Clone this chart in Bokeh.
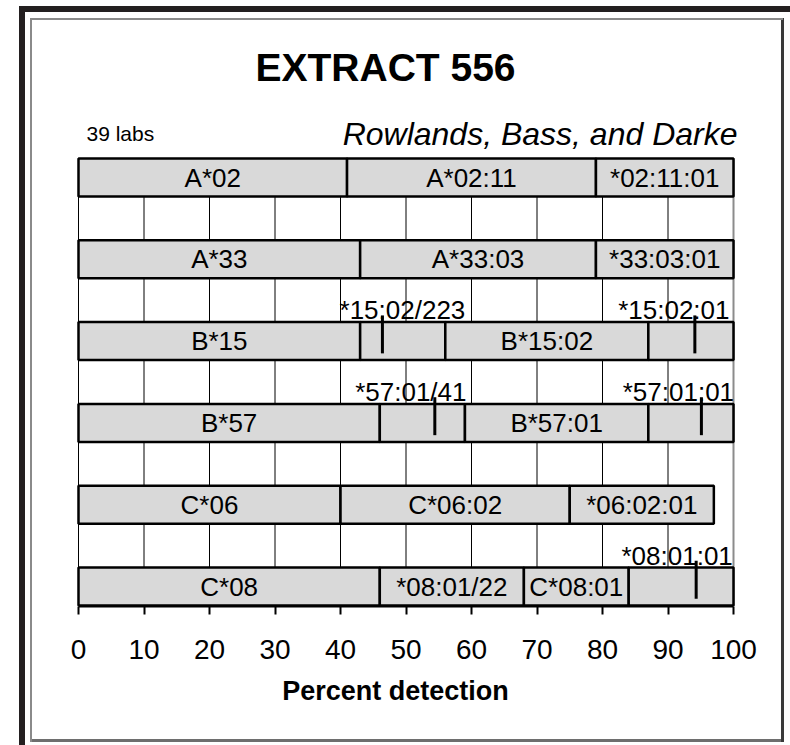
from bokeh.plotting import figure
from bokeh.models import Range1d, ColumnDataSource, Label, FixedTicker, LabelSet
from bokeh.embed import file_html
from bokeh.resources import INLINE
from bokeh.core.properties import value

# ---------------- data ----------------
rows = ["A*02", "A*33", "B*15", "B*57", "C*06", "C*08"]

seg_row = ["A*02", "A*02", "A*02",
           "A*33", "A*33", "A*33",
           "B*15", "B*15", "B*15", "B*15",
           "B*57", "B*57", "B*57", "B*57",
           "C*06", "C*06", "C*06",
           "C*08", "C*08", "C*08", "C*08"]
seg_start = [0, 41, 79,
             0, 43, 79,
             0, 43, 56, 87,
             0, 46, 59, 87,
             0, 40, 75,
             0, 46, 68, 84]
seg_end = [41, 79, 100,
           43, 79, 100,
           43, 56, 87, 100,
           46, 59, 87, 100,
           40, 75, 97,
           46, 68, 84, 100]
seg_label = ["A*02", "A*02:11", "*02:11:01",
             "A*33", "A*33:03", "*33:03:01",
             "B*15", "", "B*15:02", "",
             "B*57", "", "B*57:01", "",
             "C*06", "C*06:02", "*06:02:01",
             "C*08", "*08:01/22", "C*08:01", ""]

mark_row = ["B*15", "B*15", "B*57", "B*57", "C*08"]
mark_pos = [46.4, 94.1, 54.4, 95.1, 94.3]
mark_label = ["*15:02/223", "*15:02:01", "*57:01/41", "*57:01:01", "*08:01:01"]

x_ticks = [0, 10, 20, 30, 40, 50, 60, 70, 80, 90, 100]

title_text = "EXTRACT 556"
labs_text = "39 labs"
authors_text = "Rowlands, Bass, and Darke"
x_label = "Percent detection"

# ---------------- styling / geometry ----------------
FONT = "Liberation Sans"
W, H = 790, 745
half = 0.2323          # half bar height in row units
mark_dx = [20, -21, -24, -23, -19]   # label offsets (px)

# page-pixel helpers: x 0..100 -> px 78..733 ; one row = 81.8 px ; top of first bar at px 158
def dx(px):
    return (px - 78) / 6.55

def dy(py):
    return (py - 158) / 81.8 - half

AXIS_PY = 606
y_bottom = dy(AXIS_PY)

row_idx = {r: i for i, r in enumerate(rows)}
seg_y = [row_idx[r] for r in seg_row]
seg_src = ColumnDataSource(dict(
    left=seg_start, right=seg_end,
    top=[y - half for y in seg_y], bottom=[y + half for y in seg_y],
    xc=[(a + b) / 2 for a, b in zip(seg_start, seg_end)], yc=seg_y, label=seg_label))

mk_y = [row_idx[r] for r in mark_row]
mk_src = ColumnDataSource(dict(
    x=mark_pos, y0=[y - 0.314 for y in mk_y], y1=[y + 0.15 for y in mk_y],
    ly=[y - half - 0.035 for y in mk_y], label=mark_label, dx=mark_dx))

p = figure(width=W, height=H,
           x_range=Range1d(dx(0), dx(W)), y_range=Range1d(y_bottom, dy(0)),
           output_backend="svg", toolbar_location=None,
           y_axis_location=None,
           min_border_left=0, min_border_right=0,
           min_border_top=0, min_border_bottom=H - AXIS_PY)
p.title.visible = False
p.outline_line_color = None
p.background_fill_color = None
p.border_fill_color = None
p.xgrid.visible = False
p.ygrid.visible = False

# frame decorations (pure CSS background of the plot element)
dark = "#231f20"
bg = ", ".join([
    f"linear-gradient({dark},{dark}) 19px 6px / 771px 6px no-repeat",
    f"linear-gradient({dark},{dark}) 19px 6px / 6px 739px no-repeat",
    "linear-gradient(#8a8a8a,#8a8a8a) 31px 18px / 752px 2px no-repeat",
    "linear-gradient(#8a8a8a,#8a8a8a) 30px 18px / 2px 724px no-repeat",
    "linear-gradient(#3a3a3a,#3a3a3a) 781px 18px / 3px 724px no-repeat",
    "linear-gradient(#6e6e6e,#6e6e6e) 30px 739px / 754px 3px no-repeat",
    "white",
])
p.styles = {"background": bg}

# grid lines (drawn from the tick list, behind the bars)
grid_x = x_ticks[:-1]
p.segment(x0=grid_x, x1=grid_x, y0=[-half] * len(grid_x), y1=[y_bottom] * len(grid_x),
          line_color="black", line_width=1)
p.segment(x0=[x_ticks[-1]], x1=[x_ticks[-1]], y0=[-half], y1=[y_bottom],
          line_color="#8c8c8c", line_width=2)

# axis
ax = p.xaxis[0]
ax.bounds = (x_ticks[0], x_ticks[-1])
ax.ticker = FixedTicker(ticks=x_ticks)
ax.major_tick_out = 8
ax.major_tick_in = 0
ax.minor_tick_line_color = None
ax.axis_line_width = 2
ax.major_tick_line_width = 2
ax.major_label_text_font = FONT
ax.major_label_text_font_size = "28px"
ax.major_label_text_color = "black"
ax.major_label_standoff = 25
ax.axis_label = x_label
ax.axis_label_text_font = FONT
ax.axis_label_text_font_style = "bold"
ax.axis_label_text_font_size = "27px"
ax.axis_label_text_color = "black"
ax.axis_label_standoff = 14

# bars
p.quad(left="left", right="right", top="top", bottom="bottom", source=seg_src,
       fill_color="#d9d9d9", line_color="black", line_width=2.5)
p.add_layout(LabelSet(x="xc", y="yc", text="label", source=seg_src,
                      text_align="center", text_baseline="middle",
                      text_font=value(FONT), text_font_size="26px", text_color="black"))

# markers
p.segment(x0="x", x1="x", y0="y0", y1="y1", source=mk_src, line_color="black", line_width=3)
p.add_layout(LabelSet(x="x", y="ly", text="label", source=mk_src, x_offset="dx",
                      text_align="center", text_baseline="alphabetic",
                      text_font=value(FONT), text_font_size="26px", text_color="black"))

# titles
p.add_layout(Label(x=dx(385), y=dy(67), text=title_text, text_align="center",
                   text_baseline="middle", text_font=FONT, text_font_style="bold",
                   text_font_size="39px", text_color="black"))
p.add_layout(Label(x=dx(86), y=dy(133), text=labs_text, text_align="left",
                   text_baseline="middle", text_font=FONT,
                   text_font_size="21px", text_color="black"))
p.add_layout(Label(x=dx(737), y=dy(133), text=authors_text, text_align="right",
                   text_baseline="middle", text_font=FONT, text_font_style="italic",
                   text_font_size="32px", text_color="black"))

open("out.html", "w").write(file_html(p, INLINE))
